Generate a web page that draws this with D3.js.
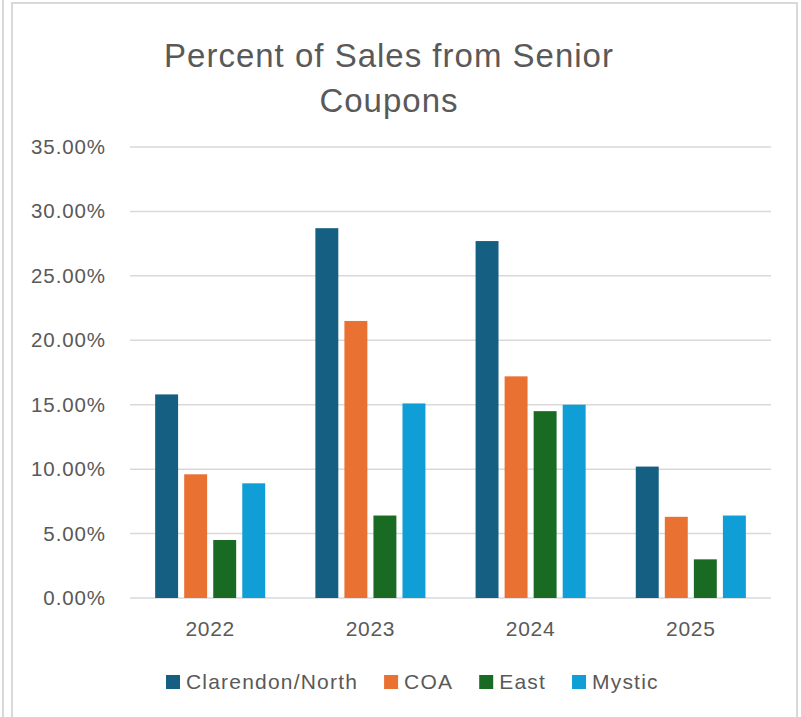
<!DOCTYPE html>
<html>
<head>
<meta charset="utf-8">
<script src="https://cdn.jsdelivr.net/npm/d3@7"></script>
<style>
  body { margin: 0; background: #fff; }
  text { font-family: "Liberation Sans", Arial, sans-serif; fill: #595959; }
</style>
</head>
<body>
<div id="chart"></div>
<script>
var years = ["2022", "2023", "2024", "2025"];
var stores = ["Clarendon/North", "COA", "East", "Mystic"];
var colors = ["#156082", "#E97132", "#196B24", "#0F9ED5"];
// percent values per store, in year order
var clarendonNorth = [15.8, 28.7, 27.7, 10.2];
var coa = [9.6, 21.5, 17.2, 6.3];
var east = [4.5, 6.4, 14.5, 3.0];
var mystic = [8.9, 15.1, 15.0, 6.4];
var yTicks = [0, 5, 10, 15, 20, 25, 30, 35];

var seriesValues = [clarendonNorth, coa, east, mystic];

var width = 801, height = 717;
var svg = d3.select("#chart").append("svg")
    .attr("width", width)
    .attr("height", height);

// outer frame lines
svg.append("line").attr("x1", 3).attr("x2", 3).attr("y1", 0).attr("y2", height)
  .attr("stroke", "#d9d9d9").attr("stroke-width", 2);
svg.append("rect").attr("x", 12).attr("y", 3).attr("width", 785).attr("height", height + 10)
  .attr("fill", "none").attr("stroke", "#d9d9d9").attr("stroke-width", 2);

// title
var title = svg.append("text")
  .attr("x", 389).attr("text-anchor", "middle")
  .style("font-size", "33px").style("letter-spacing", "1px");
title.append("tspan").attr("x", 389).attr("y", 67).text("Percent of Sales from Senior");
title.append("tspan").attr("x", 389).attr("y", 112).text("Coupons");

var plotLeft = 130, plotRight = 771, plotTop = 147, plotBottom = 598;

var y = d3.scaleLinear().domain([0, 35]).range([plotBottom, plotTop]);
var x0 = d3.scaleBand().domain(years).range([plotLeft, plotRight])
  .paddingInner(0.313).paddingOuter(0.157);
var x1 = d3.scaleBand().domain(stores).range([0, x0.bandwidth()])
  .paddingInner(0.21);

// gridlines
svg.append("g").selectAll("line")
  .data(yTicks)
  .enter()
  .append("line")
  .attr("x1", plotLeft).attr("x2", plotRight)
  .attr("y1", function(d) { return y(d); })
  .attr("y2", function(d) { return y(d); })
  .attr("stroke", "#d9d9d9").attr("stroke-width", 1.5);

// y axis labels
var yAxis = d3.axisLeft(y).tickValues(yTicks).tickSize(0).tickPadding(0)
  .tickFormat(function(d) { return d3.format(".2f")(d) + "%"; });
var yg = svg.append("g").attr("transform", "translate(106,0)").call(yAxis);
yg.select(".domain").remove();
yg.selectAll("text").style("font-size", "20.5px").style("letter-spacing", "0.9px")
  .style("font-family", null).attr("fill", null);

// bars
var groups = svg.append("g").selectAll("g")
  .data(years)
  .enter()
  .append("g")
  .attr("transform", function(d) { return "translate(" + x0(d) + ",0)"; });

groups.selectAll("rect")
  .data(function(d, i) {
    return stores.map(function(s, j) { return { store: s, idx: j, value: seriesValues[j][i] }; });
  })
  .enter()
  .append("rect")
  .attr("x", function(d) { return x1(d.store); })
  .attr("y", function(d) { return y(d.value); })
  .attr("width", x1.bandwidth())
  .attr("height", function(d) { return plotBottom - y(d.value); })
  .attr("fill", function(d) { return colors[d.idx]; });

// x axis labels
var xAxis = d3.axisBottom(x0).tickSize(0).tickPadding(0);
var xg = svg.append("g").attr("transform", "translate(0,621)").call(xAxis);
xg.select(".domain").remove();
xg.selectAll("text").style("font-size", "21px").style("letter-spacing", "0.7px")
  .style("font-family", null).attr("fill", null);

// legend
var legend = svg.append("g");
var lx = 166;
stores.forEach(function(s, i) {
  var item = legend.append("g").attr("transform", "translate(" + lx + ",0)");
  item.append("rect").attr("x", 0).attr("y", 675).attr("width", 14).attr("height", 14)
    .attr("fill", colors[i]);
  var t = item.append("text").attr("x", 20).attr("y", 689)
    .style("font-size", "21px").style("letter-spacing", "1.2px").text(s);
  lx += 20 + t.node().getComputedTextLength() + 26;
});
</script>
</body>
</html>
